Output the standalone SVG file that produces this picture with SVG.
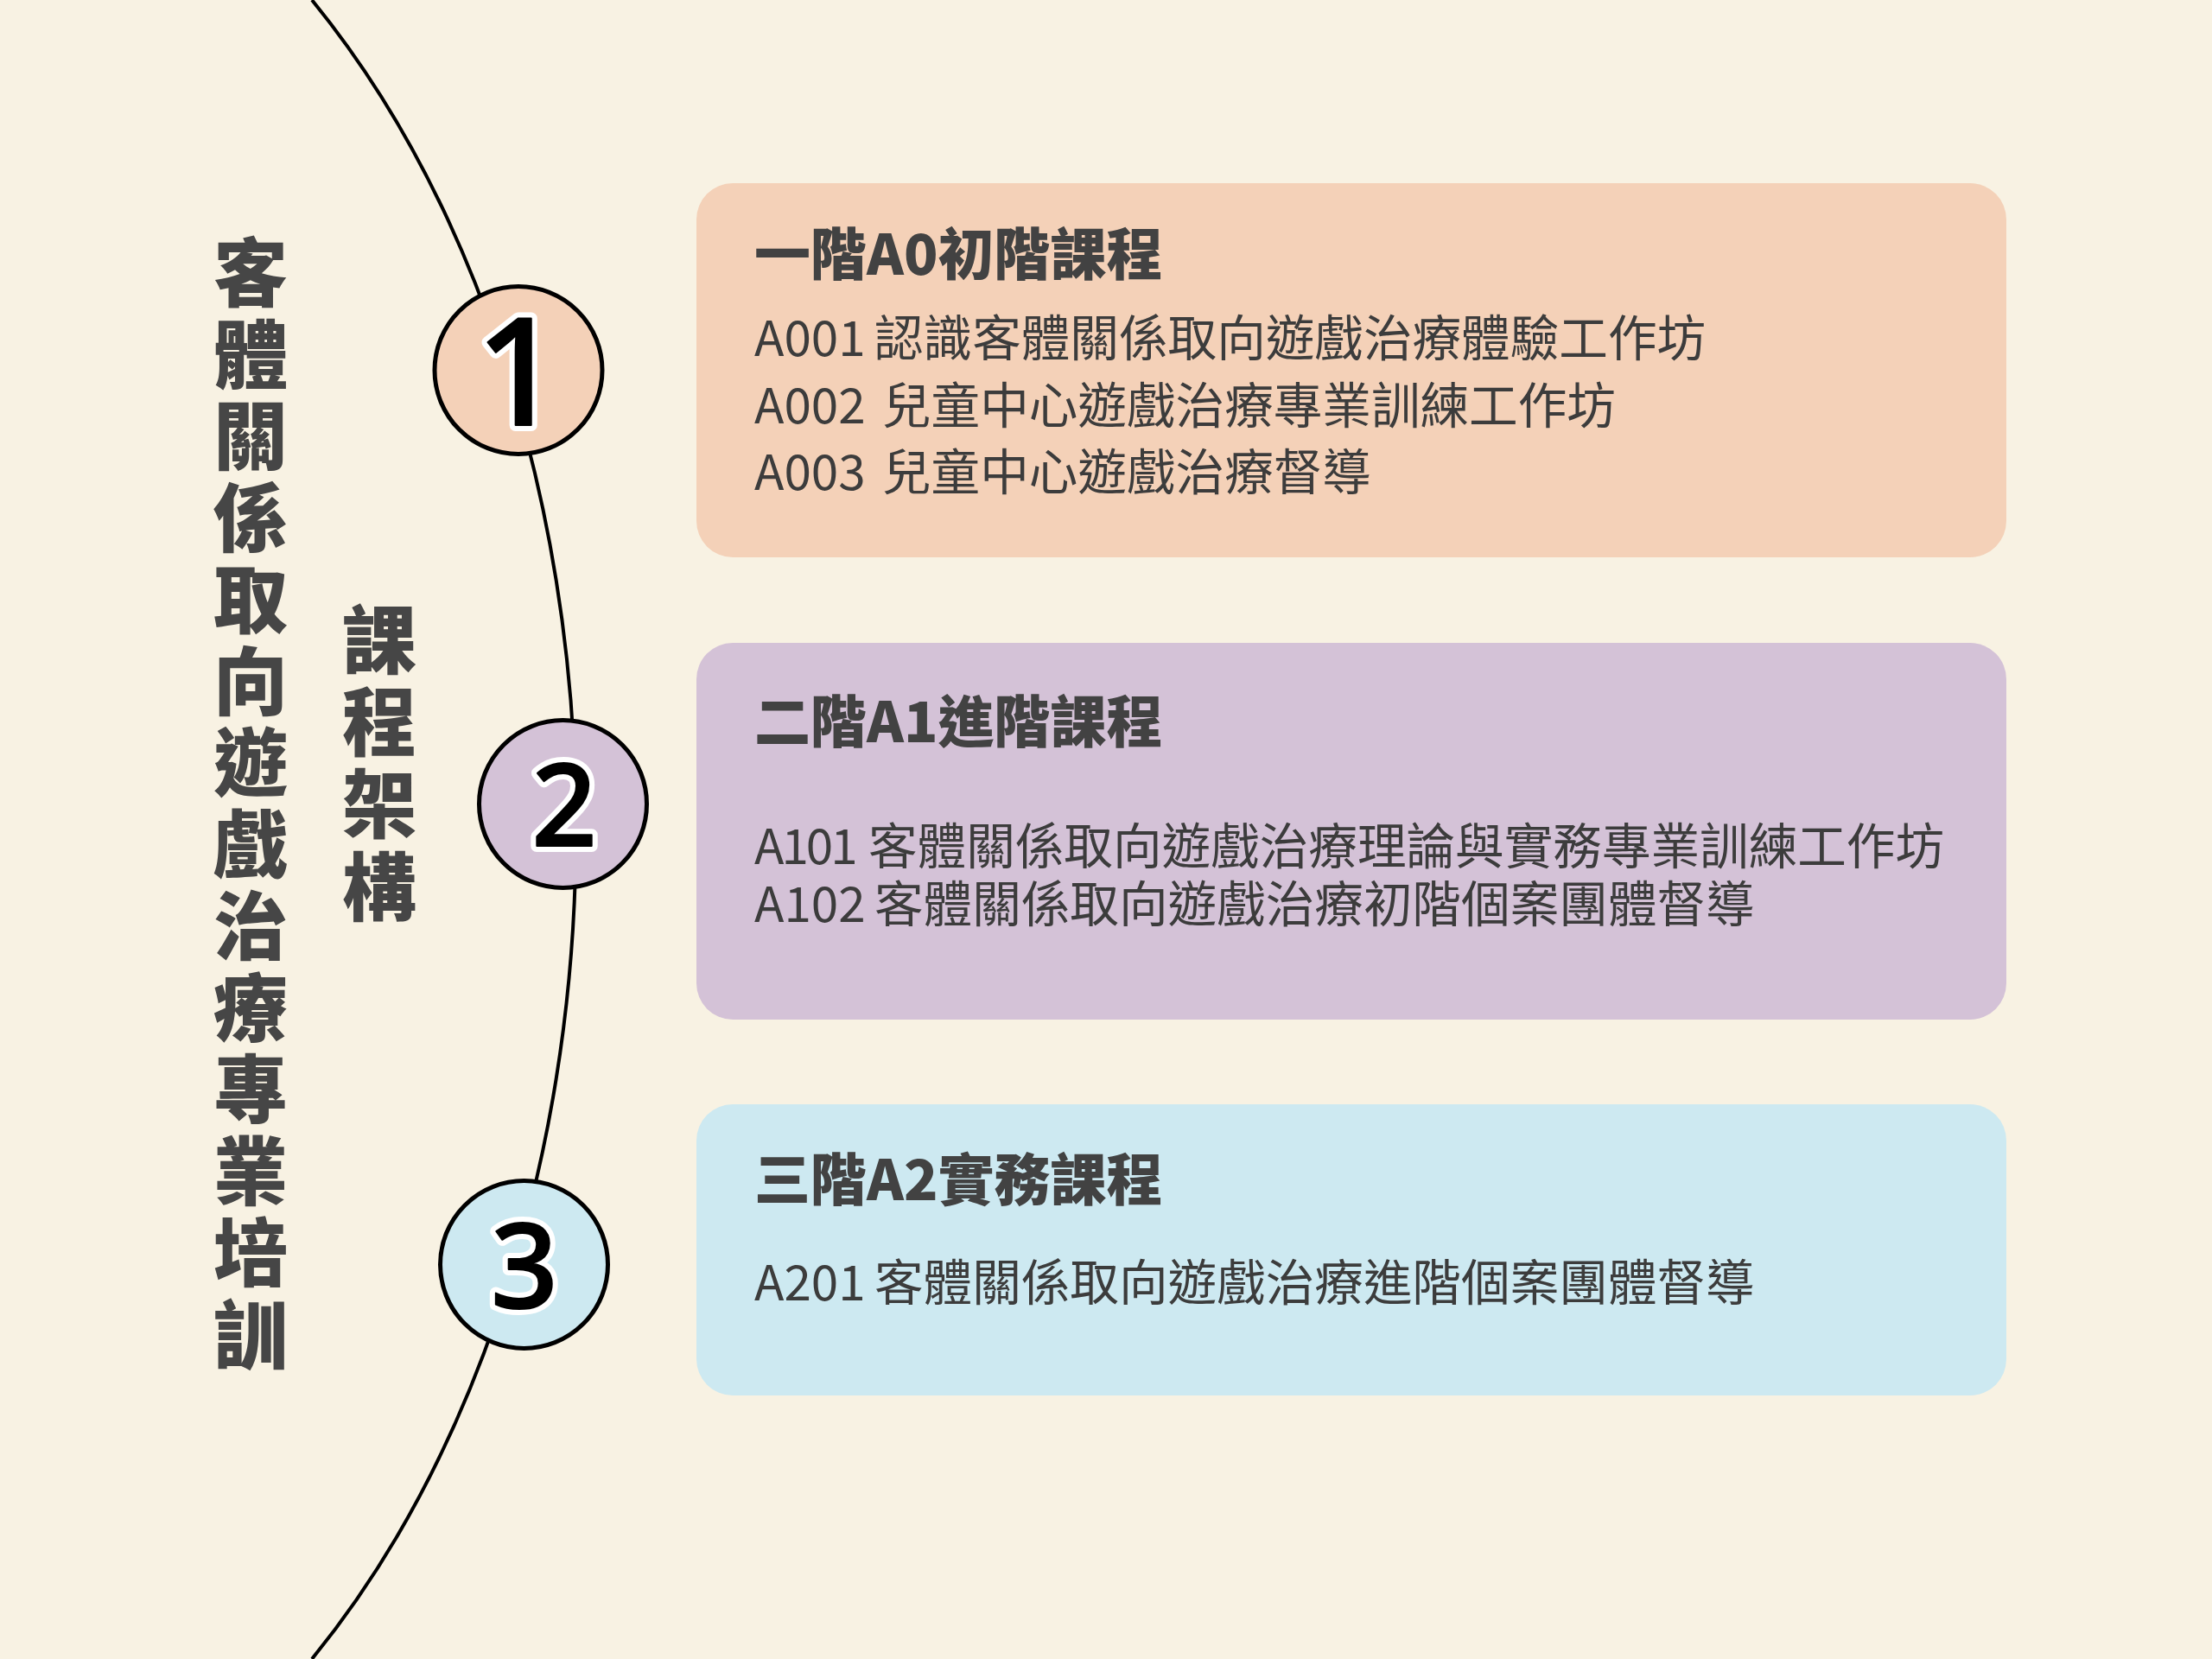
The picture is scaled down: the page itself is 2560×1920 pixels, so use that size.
<svg xmlns="http://www.w3.org/2000/svg" width="2560" height="1920" viewBox="0 0 2560 1920">
<style>
.bg{fill:#F8F2E3}
.box{stroke:none}
.c1{fill:#F4D1B8}
.c2{fill:#D4C2D7}
.c3{fill:#CDE9F1}
.node{stroke:#000;stroke-width:5}
.title{font-family:"Noto Sans CJK TC","Noto Sans CJK SC",sans-serif;font-weight:900;font-size:65px;fill:#424242}
.body{font-family:"Noto Sans CJK TC","Noto Sans CJK SC",sans-serif;font-weight:400;font-size:56.6px;fill:#3c3c3c}
.vt{font-family:"Noto Sans CJK TC","Noto Sans CJK SC",sans-serif;font-weight:900;font-size:86px;fill:#464646;text-anchor:middle}
.num{font-family:"Noto Sans","DejaVu Sans",sans-serif;font-weight:500;text-anchor:middle;fill:#000;stroke:#fff;stroke-width:14;stroke-linejoin:round;paint-order:stroke}
.numin{font-family:"Noto Sans","DejaVu Sans",sans-serif;font-weight:500;text-anchor:middle;fill:#000;stroke:#000;stroke-width:2;stroke-linejoin:round}
</style>
<rect class="bg" x="0" y="0" width="2560" height="1920"/>
<g id="connectors">
<path d="M361,0 A850,1250 0 0 1 361,1920" fill="none" stroke="#000" stroke-width="4"/>
</g>
<g id="title-main">
<text class="vt" x="290" y="348">客</text>
<text class="vt" x="290" y="442.5">體</text>
<text class="vt" x="290" y="537">關</text>
<text class="vt" x="290" y="631.5">係</text>
<text class="vt" x="290" y="726">取</text>
<text class="vt" x="290" y="820.5">向</text>
<text class="vt" x="290" y="915">遊</text>
<text class="vt" x="290" y="1009.5">戲</text>
<text class="vt" x="290" y="1104">治</text>
<text class="vt" x="290" y="1198.5">療</text>
<text class="vt" x="290" y="1293">專</text>
<text class="vt" x="290" y="1387.5">業</text>
<text class="vt" x="290" y="1482">培</text>
<text class="vt" x="290" y="1576.5">訓</text>
</g>
<g id="title-sub">
<text class="vt" x="439" y="773">課</text>
<text class="vt" x="439" y="868">程</text>
<text class="vt" x="439" y="963">架</text>
<text class="vt" x="439" y="1059">構</text>
</g>
<g id="node-1">
<circle class="node c1" cx="600" cy="428.5" r="97"/>
<text class="num" x="600" y="492" font-size="172">1</text>
<text class="numin" x="600" y="492" font-size="172">1</text>
</g>
<g id="node-2">
<circle class="node c2" cx="651.5" cy="930.5" r="97"/>
<text class="num" x="653" y="979" font-size="132">2</text>
<text class="numin" x="653" y="979" font-size="132">2</text>
</g>
<g id="node-3">
<circle class="node c3" cx="606.5" cy="1463.5" r="97"/>
<text class="num" x="607" y="1514" font-size="136">3</text>
<text class="numin" x="607" y="1514" font-size="136">3</text>
</g>
<g id="box-1">
<rect class="box c1" x="806" y="212" width="1516" height="433" rx="42"/>
<text class="title" x="873" y="318">一階A0初階課程</text>
<text class="body" x="873" y="412">A001 <tspan x="1012">認識客體關係取向遊戲治療體驗工作坊</tspan></text>
<text class="body" x="873" y="490">A002 <tspan x="1021">兒童中心遊戲治療專業訓練工作坊</tspan></text>
<text class="body" x="873" y="567">A003 <tspan x="1021">兒童中心遊戲治療督導</tspan></text>
</g>
<g id="box-2">
<rect class="box c2" x="806" y="744" width="1516" height="436" rx="42"/>
<text class="title" x="873" y="859">二階A1進階課程</text>
<text class="body" x="873" y="1000"><tspan letter-spacing="-3">A101</tspan> <tspan x="1005">客體關係取向遊戲治療理論與實務專業訓練工作坊</tspan></text>
<text class="body" x="873" y="1067">A102 <tspan x="1012">客體關係取向遊戲治療初階個案團體督導</tspan></text>
</g>
<g id="box-3">
<rect class="box c3" x="806" y="1278" width="1516" height="337" rx="42"/>
<text class="title" x="873" y="1389">三階A2實務課程</text>
<text class="body" x="873" y="1505">A201 <tspan x="1012">客體關係取向遊戲治療進階個案團體督導</tspan></text>
</g>
</svg>
